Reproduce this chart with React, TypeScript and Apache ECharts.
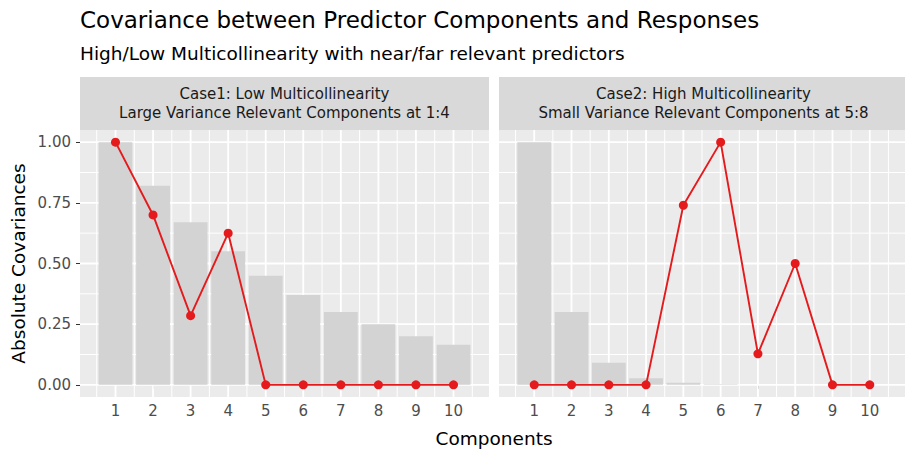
import React, { useEffect, useRef } from "react";
import * as echarts from "echarts";

// Component index on the x axis
const components = [1, 2, 3, 4, 5, 6, 7, 8, 9, 10];

// Case 1: eigenvalue (variance) profile and absolute covariances with the response
const case1Variance = [1.0, 0.82, 0.67, 0.55, 0.45, 0.37, 0.3, 0.25, 0.2, 0.165];
const case1Covariance = [1.0, 0.7, 0.285, 0.625, 0, 0, 0, 0, 0, 0];

// Case 2: eigenvalue (variance) profile and absolute covariances with the response
const case2Variance = [1.0, 0.3, 0.091, 0.027, 0.0082, 0.0025, 0.00075, 0.00022, 0.00007, 0.00002];
const case2Covariance = [0, 0, 0, 0, 0.74, 1.0, 0.128, 0.5, 0, 0];

// Axis breaks
const yBreaks = [0, 0.25, 0.5, 0.75, 1.0];
const yMinorBreaks = [0.125, 0.375, 0.625, 0.875];
const xMinorBreaks = [0.5, 1.5, 2.5, 3.5, 4.5, 5.5, 6.5, 7.5, 8.5, 9.5, 10.5];

const panelStrips = [
  "Case1: Low Multicollinearity\nLarge Variance Relevant Components at 1:4",
  "Case2: High Multicollinearity\nSmall Variance Relevant Components at 5:8",
];

const titleText = "Covariance between Predictor Components and Responses";
const subtitleText = "High/Low Multicollinearity with near/far relevant predictors";
const xTitle = "Components";
const yTitle = "Absolute Covariances";

const FONT = "DejaVu Sans";
const RED = "#E41A1C";
const BAR = "#D3D3D3";
const PANEL_BG = "#EBEBEB";
const STRIP_BG = "#D9D9D9";

const panelLeft = [80, 499];
const panelWidth = 409;
const panelTop = 130;
const panelHeight = 267;
const stripTop = 77;
const stripHeight = 53;

const xMin = 0.055;
const xMax = 10.945;
const yMin = -0.05;
const yMax = 1.05;

const unitPx = panelWidth / (xMax - xMin);

function gridLineData() {
  // [x, y, orientation (0 vertical / 1 horizontal), major (1) / minor (0)]
  const rows: number[][] = [];
  xMinorBreaks.forEach((v) => rows.push([v, 0.5, 0, 0]));
  components.forEach((v) => rows.push([v, 0.5, 0, 1]));
  yMinorBreaks.forEach((v) => rows.push([5, v, 1, 0]));
  yBreaks.forEach((v) => rows.push([5, v, 1, 1]));
  return rows;
}

function renderGridLine(params: any, api: any) {
  const rect = params.coordSys;
  const orient = api.value(2);
  const major = api.value(3) === 1;
  const lineWidth = major ? 1.8 : 1.0;
  if (orient === 0) {
    const x = api.coord([api.value(0), 0.5])[0];
    return {
      type: "line",
      shape: { x1: x, y1: rect.y, x2: x, y2: rect.y + rect.height },
      style: { stroke: "#FFFFFF", lineWidth },
      silent: true,
    };
  }
  const y = api.coord([5, api.value(1)])[1];
  return {
    type: "line",
    shape: { x1: rect.x, y1: y, x2: rect.x + rect.width, y2: y },
    style: { stroke: "#FFFFFF", lineWidth },
    silent: true,
  };
}

export default function App() {
  const ref = useRef<HTMLDivElement>(null);

  useEffect(() => {
    if (!ref.current) return;
    const chart = echarts.init(ref.current, null, { renderer: "svg" });

    const variances = [case1Variance, case2Variance];
    const covariances = [case1Covariance, case2Covariance];

    const grids = panelLeft.map((left) => ({
      left,
      top: panelTop,
      width: panelWidth,
      height: panelHeight,
      show: true,
      backgroundColor: PANEL_BG,
      borderWidth: 0,
    }));

    const xAxes = panelLeft.map((_, i) => ({
      type: "value",
      gridIndex: i,
      min: xMin,
      max: xMax,
      axisLine: { show: false },
      splitLine: { show: false },
      axisTick: {
        show: true,
        customValues: components,
        length: 4,
        lineStyle: { color: "#333333", width: 1 },
      },
      axisLabel: {
        customValues: components,
        margin: 6,
        color: "#4D4D4D",
        fontFamily: FONT,
        fontSize: 15,
        formatter: (v: number) => String(v),
      },
    }));

    const yAxes = panelLeft.map((_, i) => ({
      type: "value",
      gridIndex: i,
      min: yMin,
      max: yMax,
      axisLine: { show: false },
      splitLine: { show: false },
      axisTick: {
        show: i === 0,
        customValues: yBreaks,
        length: 4,
        lineStyle: { color: "#333333", width: 1 },
      },
      axisLabel: {
        show: i === 0,
        customValues: yBreaks,
        margin: 9,
        color: "#4D4D4D",
        fontFamily: FONT,
        fontSize: 15,
        formatter: (v: number) => v.toFixed(2),
      },
    }));

    const series: any[] = [];
    panelLeft.forEach((_, i) => {
      series.push({
        type: "custom",
        xAxisIndex: i,
        yAxisIndex: i,
        z: 1,
        silent: true,
        renderItem: renderGridLine,
        data: gridLineData(),
      });
      series.push({
        type: "bar",
        xAxisIndex: i,
        yAxisIndex: i,
        z: 2,
        barWidth: 0.9 * unitPx,
        itemStyle: { color: BAR },
        data: components.map((c, k) => [c, variances[i][k]]),
      });
      series.push({
        type: "line",
        xAxisIndex: i,
        yAxisIndex: i,
        z: 3,
        symbol: "circle",
        symbolSize: 9,
        lineStyle: { color: RED, width: 1.9 },
        itemStyle: { color: RED },
        data: components.map((c, k) => [c, covariances[i][k]]),
      });
    });

    const graphics: any[] = [
      {
        type: "text",
        x: 80,
        y: 20,
        style: {
          text: titleText,
          fontFamily: FONT,
          fontSize: 23,
          fill: "#000000",
          verticalAlign: "middle",
        },
      },
      {
        type: "text",
        x: 80,
        y: 53,
        style: {
          text: subtitleText,
          fontFamily: FONT,
          fontSize: 18.5,
          fill: "#000000",
          verticalAlign: "middle",
        },
      },
      {
        type: "text",
        x: (panelLeft[0] + panelLeft[1] + panelWidth) / 2,
        y: 438,
        style: {
          text: xTitle,
          fontFamily: FONT,
          fontSize: 18.5,
          fill: "#000000",
          align: "center",
          verticalAlign: "middle",
        },
      },
      {
        type: "text",
        x: 18,
        y: panelTop + panelHeight / 2,
        rotation: Math.PI / 2,
        style: {
          text: yTitle,
          fontFamily: FONT,
          fontSize: 18.5,
          fill: "#000000",
          align: "center",
          verticalAlign: "middle",
        },
      },
    ];

    panelLeft.forEach((left, i) => {
      graphics.push({
        type: "rect",
        shape: { x: left, y: stripTop, width: panelWidth, height: stripHeight },
        style: { fill: STRIP_BG },
        silent: true,
      });
      graphics.push({
        type: "text",
        x: left + panelWidth / 2,
        y: stripTop + stripHeight / 2,
        style: {
          text: panelStrips[i],
          fontFamily: FONT,
          fontSize: 15,
          lineHeight: 19,
          fill: "#1A1A1A",
          align: "center",
          verticalAlign: "middle",
        },
        silent: true,
      });
    });

    chart.setOption({
      animation: false,
      backgroundColor: "#FFFFFF",
      grid: grids,
      xAxis: xAxes,
      yAxis: yAxes,
      series,
      graphic: graphics,
    });

    return () => chart.dispose();
  }, []);

  return (
    <div
      ref={ref}
      style={{ position: "absolute", left: 0, top: 0, width: 905, height: 450 }}
    />
  );
}
